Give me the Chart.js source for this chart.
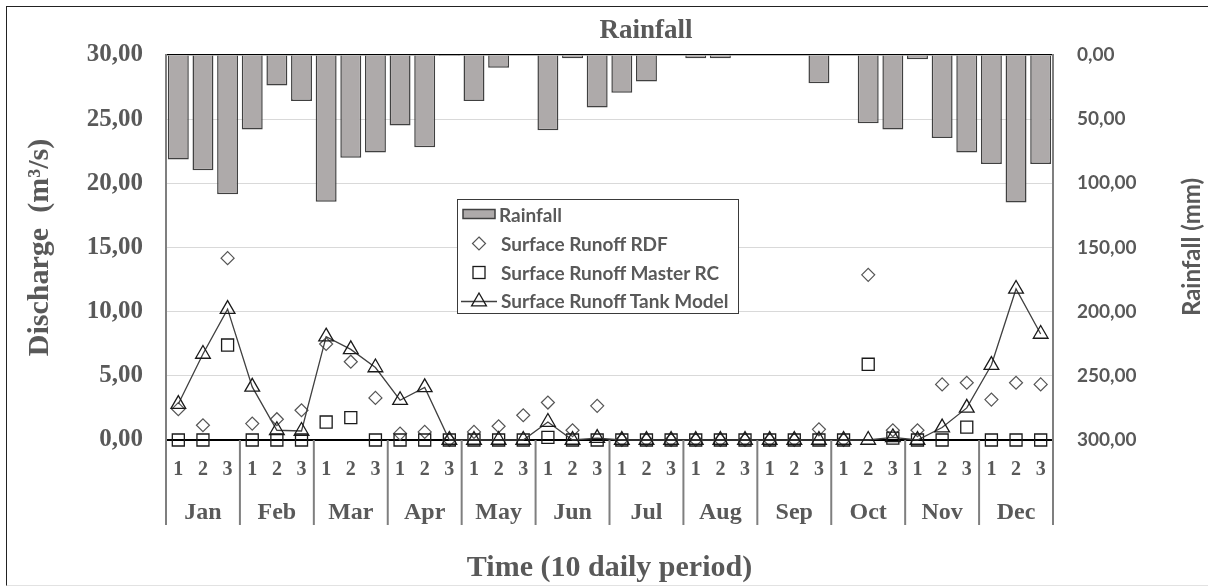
<!DOCTYPE html>
<html>
<head>
<meta charset="utf-8">
<script src="https://cdn.jsdelivr.net/npm/chart.js@4.4.0/dist/chart.umd.min.js"></script>
<style>
  body { margin: 0; background: #fff; }
  #wrap { position: relative; width: 1208px; height: 586px; overflow: hidden; }
  #frame { position: absolute; left: 6px; top: 6px; right: -2px; bottom: 0; border-top: 1.5px solid #222;
           border-left: 1.5px solid #222; border-bottom: 1px solid #e2e2e2; pointer-events: none; }
  #chartTitle { position: absolute; left: 646px; top: 29px; transform: translate(-50%, -50%);
                font: bold 27px "Liberation Serif", "Times New Roman", serif; color: #595959; white-space: nowrap; }
  #rainTitle { position: absolute; left: 1190px; top: 247px; transform: translate(-50%, -50%) rotate(-90deg);
               font: bold 24px Lato, Carlito, Calibri, sans-serif; color: #595959; white-space: nowrap; }
  #legend { position: absolute; left: 457px; top: 199px; width: 282px; height: 115px; box-sizing: border-box;
            border: 1.5px solid #3a3a3a; background: #fff; font: bold 19px Lato, Carlito, Calibri, sans-serif; color: #595959; }
  #legend .row { position: absolute; left: 2px; height: 28px; display: flex; align-items: center; white-space: nowrap; }
  #legend svg { margin-right: 3px; }
</style>
</head>
<body>
<div id="wrap">
  <canvas id="chart"></canvas>
  <div id="frame"></div>
  <div id="chartTitle">Rainfall</div>
  <div id="rainTitle">Rainfall (mm)</div>
  <div id="legend"></div>
</div>
<script>
// data (10 daily periods, Jan 1 .. Dec 3)
const months = ['Jan', 'Feb', 'Mar', 'Apr', 'May', 'Jun', 'Jul', 'Aug', 'Sep', 'Oct', 'Nov', 'Dec'];
const periods = months.flatMap(() => ['1', '2', '3']);

const rainfall = [81.5, 89.8, 108.6, 58.0, 23.7, 35.9, 114.3, 80.0, 76.0, 55.0, 71.9, 0.8,
                  35.9, 9.9, 0, 58.6, 2.6, 40.9, 29.4, 20.6, 0, 2.6, 2.6, 0,
                  0, 0, 22.1, 0, 53.1, 58.1, 3.4, 64.6, 76.0, 84.9, 115.0, 84.9];

const runoffRdf = [2.4, 1.15, 14.17, 1.28, 1.62, 2.32, 7.48, 6.1, 3.28, 0.5, 0.63, 0,
                   0.63, 1.07, 1.93, 2.92, 0.76, 2.66, 0, 0, 0, 0, 0, 0,
                   0, 0, 0.83, 0, 12.87, 0.76, 0.76, 4.33, 4.46, 3.15, 4.46, 4.33];

const runoffMasterRc = [0, 0, 7.4, 0, 0, 0, 1.4, 1.75, 0, 0, 0, 0,
                        0, 0, 0, 0.2, 0, 0, 0, 0, 0, 0, 0, 0,
                        0, 0, 0, 0, 5.9, 0.15, 0, 0, 1.0, 0, 0, 0];

const runoffTank = [2.8, 6.7, 10.2, 4.14, 0.76, 0.7, 8.05, 7.06, 5.65, 3.1, 4.1, 0,
                    0, 0, 0, 1.4, 0, 0.15, 0, 0, 0, 0, 0, 0,
                    0, 0, 0, 0, 0, 0.2, 0, 0.97, 2.5, 5.84, 11.77, 8.26];

const dischargeTicks = [0, 5, 10, 15, 20, 25, 30];
const rainTicks = [0, 50, 100, 150, 200, 250, 300];

const grey = '#595959';
const serif = '"Liberation Serif", "Times New Roman", serif';
const sans = 'Lato, Carlito, Calibri, sans-serif';
const fmt = v => Number(v).toFixed(2).replace('.', ',');

// month separators under the axis
const monthDividers = {
  id: 'monthDividers',
  afterDraw(chart) {
    const { ctx, chartArea } = chart;
    const x = chart.scales.x;
    const bottom = chart.scales.xMonth.top + 35;
    ctx.save();
    ctx.strokeStyle = '#7f7f7f';
    ctx.lineWidth = 2;
    for (let m = 0; m <= months.length; m++) {
      let px;
      if (m === 0) px = chartArea.left;
      else if (m === months.length) px = chartArea.right;
      else px = (x.getPixelForValue(m * 3 - 1) + x.getPixelForValue(m * 3)) / 2;
      ctx.beginPath();
      ctx.moveTo(px, chartArea.bottom);
      ctx.lineTo(px, bottom);
      ctx.stroke();
    }
    ctx.restore();
  }
};

const chart = new Chart(document.getElementById('chart'), {
  data: {
    labels: periods,
    datasets: [
      {
        type: 'line',
        label: 'Surface Runoff Tank Model',
        data: runoffTank,
        yAxisID: 'y',
        borderColor: '#404040',
        borderWidth: 1.3,
        pointStyle: 'triangle',
        pointRadius: 8.5,
        pointBorderColor: '#1a1a1a',
        pointBackgroundColor: 'rgba(0,0,0,0)',
        pointBorderWidth: 1.3,
        tension: 0,
        clip: false,
        order: 1
      },
      {
        type: 'line',
        label: 'Surface Runoff Master RC',
        data: runoffMasterRc,
        yAxisID: 'y',
        showLine: false,
        pointStyle: 'rect',
        pointRadius: 8.5,
        pointBorderColor: '#1a1a1a',
        pointBackgroundColor: 'rgba(0,0,0,0)',
        pointBorderWidth: 1.3,
        clip: false,
        order: 2
      },
      {
        type: 'line',
        label: 'Surface Runoff RDF',
        data: runoffRdf,
        yAxisID: 'y',
        showLine: false,
        pointStyle: 'rectRot',
        pointRadius: 6.5,
        pointBorderColor: '#555',
        pointBackgroundColor: 'rgba(0,0,0,0)',
        pointBorderWidth: 1.2,
        clip: false,
        order: 3
      },
      {
        type: 'bar',
        label: 'Rainfall',
        data: rainfall,
        yAxisID: 'yRain',
        backgroundColor: '#aeaaaa',
        borderColor: '#404040',
        borderWidth: 1.5,
        barPercentage: 0.85,
        categoryPercentage: 1,
        order: 5
      }
    ]
  },
  options: {
    responsive: true,
    maintainAspectRatio: false,
    animation: false,
    layout: { padding: { top: 55, left: 0, right: 0, bottom: 0 } },
    plugins: {
      legend: { display: false },
      tooltip: { enabled: false },
      title: { display: false }
    },
    scales: {
      x: {
        type: 'category',
        position: 'bottom',
        weight: 0,
        grid: { display: false, drawTicks: false },
        border: { display: true, color: '#000', width: 1.3 },
        ticks: { color: grey, font: { family: serif, size: 20, weight: 'bold' }, padding: 18, maxRotation: 0, autoSkip: false },
        afterFit: s => { s.height = 50; }
      },
      xMonth: {
        type: 'category',
        position: 'bottom',
        weight: 1,
        labels: months,
        offset: true,
        grid: { display: false, drawTicks: false },
        border: { display: false },
        ticks: { color: grey, font: { family: serif, size: 24, weight: 'bold' }, padding: 8, maxRotation: 0, autoSkip: false },
        title: {
          display: true,
          text: 'Time (10 daily period)',
          color: grey,
          font: { family: serif, size: 30, weight: 'bold' },
          padding: { top: 0, bottom: 0 }
        },
        afterFit: s => { s.height = 96; }
      },
      y: {
        position: 'left',
        min: 0,
        max: 30,
        afterBuildTicks: s => { s.ticks = dischargeTicks.map(v => ({ value: v })); },
        grid: {
          drawTicks: false,
          color: c => (c.tick && (c.tick.value === 30 || c.tick.value === 0)) ? '#000' : '#d9d9d9',
          lineWidth: c => (c.tick && c.tick.value === 30) ? 1.3 : 1
        },
        border: { display: true, color: '#7f7f7f', width: 2 },
        ticks: { color: grey, font: { family: serif, size: 25, weight: 'bold' }, padding: 23, callback: v => fmt(v) },
        title: {
          display: true,
          text: 'Discharge  (m³/s)',
          color: grey,
          font: { family: serif, size: 30, weight: 'bold' },
          padding: { top: 22, bottom: 0 }
        },
        afterFit: s => { s.width = 166; }
      },
      yRain: {
        position: 'right',
        reverse: true,
        min: 0,
        max: 300,
        afterBuildTicks: s => { s.ticks = rainTicks.map(v => ({ value: v })); },
        grid: { drawOnChartArea: false, drawTicks: false },
        border: { display: true, color: '#7f7f7f', width: 2 },
        ticks: { color: grey, font: { family: sans, size: 19, weight: 'bold' }, padding: 24, callback: v => fmt(v) },
        afterFit: s => { s.width = 155; }
      }
    }
  },
  plugins: [monthDividers]
});

// legend box built from the chart's datasets
function legendIcon(ds) {
  if (ds.type === 'bar') {
    return '<svg width="36" height="20"><rect x="3" y="5.5" width="32" height="9" fill="' + ds.backgroundColor + '" stroke="' + ds.borderColor + '" stroke-width="1.5"/></svg>';
  }
  let mark = '';
  if (ds.pointStyle === 'rectRot') mark = '<path d="M19 4 L25.5 10.5 L19 17 L12.5 10.5 Z" fill="none" stroke="' + ds.pointBorderColor + '" stroke-width="1.2"/>';
  if (ds.pointStyle === 'rect') mark = '<rect x="13" y="4.5" width="12" height="12" fill="none" stroke="' + ds.pointBorderColor + '" stroke-width="1.3"/>';
  if (ds.pointStyle === 'triangle') mark = '<path d="M19 3 L26.4 15.8 L11.6 15.8 Z" fill="none" stroke="' + ds.pointBorderColor + '" stroke-width="1.3"/>';
  const line = ds.showLine === false ? '' : '<line x1="1" y1="11.5" x2="37" y2="11.5" stroke="' + ds.borderColor + '" stroke-width="1.3"/>';
  return '<svg width="38" height="20">' + line + mark + '</svg>';
}

const legendEl = document.getElementById('legend');
const legendOrder = ['Rainfall', 'Surface Runoff RDF', 'Surface Runoff Master RC', 'Surface Runoff Tank Model'];
const rowTops = [0, 29, 58, 86];
legendOrder.forEach((name, i) => {
  const ds = chart.data.datasets.find(d => d.label === name);
  const row = document.createElement('div');
  row.className = 'row';
  row.style.top = rowTops[i] + 'px';
  row.innerHTML = legendIcon(ds) + '<span>' + ds.label + '</span>';
  legendEl.appendChild(row);
});
</script>
</body>
</html>
